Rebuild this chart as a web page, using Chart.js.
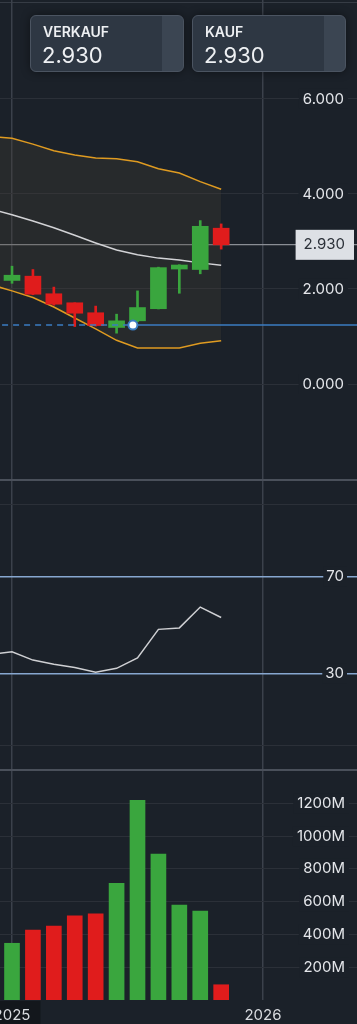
<!DOCTYPE html>
<html>
<head>
<meta charset="utf-8">
<script src="https://cdn.jsdelivr.net/npm/chart.js@4.4.1/dist/chart.umd.min.js"></script>
<style>
  html, body { margin: 0; padding: 0; background: #1b2129; }
  body { width: 357px; height: 1024px; position: relative; overflow: hidden; font-family: Inter, "Noto Sans", sans-serif; }
  .pane { position: absolute; left: 0; width: 357px; }
  .sep { position: absolute; left: 0; width: 357px; height: 2px; background: #4a505a; }
  .quote {
    position: absolute; top: 15px; width: 154px; height: 57px; box-sizing: border-box;
    border: 1px solid #4b5461; border-radius: 6px; color: #eef0f3;
    background: linear-gradient(to right, #2e3743 0, #2e3743 131px, #3b4552 131px);
    box-shadow: 0 0 10px rgba(0, 0, 0, 0.45);
  }
  .quote .lbl { position: absolute; left: 12px; top: 7px; font-size: 14px; font-weight: 600; }
  .quote .val { position: absolute; left: 11px; top: 26px; font-size: 22px; }
</style>
</head>
<body>
<div class="sep" style="top:2px;height:1px;background:#363c45"></div>
<div class="pane" style="top:0;height:480px"><canvas id="price" width="357" height="480"></canvas></div>
<div class="pane" style="top:480px;height:290px"><canvas id="rsi" width="357" height="290"></canvas></div>
<div class="pane" style="top:770px;height:254px"><canvas id="volume" width="357" height="254"></canvas></div>
<div class="sep" style="top:479px"></div>
<div class="sep" style="top:769px"></div>
<div class="quote" style="left:30px"><div class="lbl">VERKAUF</div><div class="val">2.930</div></div>
<div class="quote" style="left:192px"><div class="lbl">KAUF</div><div class="val">2.930</div></div>

<script>
// month index: 0 = Jan 2025, 12 = Jan 2026
const candleMonths = [0, 1, 2, 3, 4, 5, 6, 7, 8, 9, 10];
const opens  = [2.18, 2.27, 1.90, 1.71, 1.50, 1.19, 1.33, 1.585, 2.42, 2.41, 3.28];
const highs  = [2.48, 2.41, 2.04, 1.71, 1.64, 1.47, 1.96, 2.46, 2.51, 3.44, 3.37];
const lows   = [2.12, 1.88, 1.66, 1.21, 1.22, 1.07, 1.31, 1.58, 1.91, 2.32, 2.84];
const closes = [2.29, 1.89, 1.68, 1.49, 1.23, 1.33, 1.61, 2.45, 2.505, 3.32, 2.93];
const volumes = [346, 427, 451, 514, 526, 711, 1218, 890, 579, 543, 93]; // millions

const indMonths = [-1, 0, 1, 2, 3, 4, 5, 6, 7, 8, 9, 10];
const bbUpper  = [5.21, 5.175, 5.05, 4.91, 4.82, 4.76, 4.74, 4.68, 4.53, 4.44, 4.26, 4.10];
const bbMiddle = [3.68, 3.565, 3.43, 3.29, 3.13, 2.97, 2.82, 2.72, 2.65, 2.61, 2.55, 2.50];
const bbLower  = [2.09, 1.96, 1.82, 1.62, 1.39, 1.16, 0.92, 0.76, 0.76, 0.76, 0.86, 0.91];
const rsiValues = [37.9, 38.9, 35.5, 33.8, 32.4, 30.5, 32.1, 36.4, 48.2, 48.8, 57.4, 53.1];

const lastPrice = 2.93;
const refPrice = 1.24;
const refMonth = 5.78;

const yearTicks = [0, 12];
const yearLabels = ['2025', '2026'];
const priceTicks = [0, 2, 4, 6];
const rsiTicks = [0, 30, 70, 100];
const rsiLabelled = [30, 70];
const volumeTicks = [200, 400, 600, 800, 1000, 1200];

const BG = '#1b2129';
const GRID = '#2b3038';
const VGRID = '#3b414b';
const GREEN = '#3aa63e';
const RED = '#e01c1c';
const ORANGE = '#df9b21';
const BLUE = '#3b7cc2';

Chart.defaults.font.family = 'Inter, "Noto Sans", sans-serif';

const candleColors = candleMonths.map((m, i) => closes[i] >= opens[i] ? GREEN : RED);

function zeroPad(axis) {
  axis.paddingTop = 0; axis.paddingBottom = 0;
  axis.paddingLeft = 0; axis.paddingRight = 0;
}

function xAxis(showLabels) {
  return {
    type: 'linear', min: -0.574, max: 16.494, offset: false,
    afterBuildTicks: a => { a.ticks = yearTicks.map(v => ({ value: v })); },
    grid: { color: VGRID, lineWidth: 1.5, drawTicks: false, offset: false },
    border: { display: false },
    ticks: showLabels ? {
      autoSkip: false, maxRotation: 0, padding: 6, color: '#d9dce0',
      font: { size: 15 },
      callback: v => yearLabels[yearTicks.indexOf(v)],
      showLabelBackdrop: true,
      backdropColor: ctx => ctx.index === 0 ? '#13171c' : 'rgba(0,0,0,0)',
      backdropPadding: { left: 10, right: 10, top: 5, bottom: 8 }
    } : { display: false },
    afterFit: a => { a.height = showLabels ? 24 : 0; zeroPad(a); }
  };
}

function rightAxis(min, max, ticks, extra) {
  return Object.assign({
    position: 'right', min, max,
    afterBuildTicks: a => { a.ticks = ticks.map(v => ({ value: v })); },
    grid: { color: GRID, lineWidth: 1, drawTicks: false },
    border: { display: false },
    afterFit: a => { a.width = 0; zeroPad(a); }
  }, extra);
}

const common = {
  responsive: false,
  animation: false,
  events: [],
  layout: { padding: 0, autoPadding: false },
  plugins: { legend: { display: false }, tooltip: { enabled: false } }
};

const pts = (xs, ys) => xs.map((x, i) => ({ x, y: ys[i] }));

// price pane
new Chart(document.getElementById('price'), {
  type: 'bar',
  data: {
    datasets: [
      { type: 'line', data: [{ x: refMonth, y: refPrice }], showLine: false, pointRadius: 4.5,
        pointBackgroundColor: '#ffffff', pointBorderColor: BLUE, pointBorderWidth: 2, order: 0 },
      { type: 'line', data: [{ x: -1, y: refPrice }, { x: refMonth, y: refPrice }], borderColor: BLUE,
        borderWidth: 1.5, borderDash: [6, 5], pointRadius: 0, order: 0.5 },
      { type: 'line', data: [{ x: refMonth, y: refPrice }, { x: 17, y: refPrice }], borderColor: BLUE,
        borderWidth: 1.5, pointRadius: 0, order: 0.5 },
      { data: candleMonths.map((m, i) => ({ x: m, y: [opens[i], closes[i]] })), backgroundColor: candleColors,
        barThickness: 16, grouped: false, order: 1 },
      { data: candleMonths.map((m, i) => ({ x: m, y: [lows[i], highs[i]] })), backgroundColor: candleColors,
        barThickness: 2, grouped: false, order: 2 },
      { type: 'line', data: pts(indMonths, bbUpper), borderColor: ORANGE, borderWidth: 1.5, pointRadius: 0,
        fill: '+2', backgroundColor: 'rgba(70, 64, 52, 0.3)', order: 7 },
      { type: 'line', data: pts(indMonths, bbMiddle), borderColor: '#d2d3d6', borderWidth: 1.5, pointRadius: 0, order: 5 },
      { type: 'line', data: pts(indMonths, bbLower), borderColor: ORANGE, borderWidth: 1.5, pointRadius: 0, order: 6 }
    ]
  },
  options: Object.assign({}, common, {
    scales: {
      x: xAxis(false),
      y: rightAxis(-2.021, 8.084, priceTicks, {
        ticks: { mirror: true, padding: -13, color: '#e4e6ea', font: { size: 15 }, z: 1,
          callback: v => v.toFixed(3), showLabelBackdrop: true, backdropColor: BG,
          backdropPadding: { left: 4, right: 4, top: 1, bottom: 1 } }
      }),
      yLast: rightAxis(-2.021, 8.084, [lastPrice], {
        grid: { color: '#8a8e95', lineWidth: 1.2, drawTicks: false },
        ticks: { mirror: true, padding: -12, color: '#2b3038', font: { size: 15 }, z: 1,
          callback: v => v.toFixed(3), showLabelBackdrop: true, backdropColor: '#dde0e5',
          backdropPadding: { left: 8, right: 9, top: 6, bottom: 6 } }
      })
    }
  })
});

// RSI pane
new Chart(document.getElementById('rsi'), {
  type: 'line',
  data: {
    datasets: [
      { data: pts(indMonths, rsiValues), borderColor: '#cfd0d3', borderWidth: 1.5, pointRadius: 0 }
    ]
  },
  options: Object.assign({}, common, {
    scales: {
      x: xAxis(false),
      y: rightAxis(-9.92, 109.92, rsiTicks, {
        grid: {
          drawTicks: false,
          color: ctx => rsiLabelled.includes(ctx.tick.value) ? '#87a7d0' : GRID,
          lineWidth: ctx => rsiLabelled.includes(ctx.tick.value) ? 1.5 : 1
        },
        ticks: { mirror: true, padding: -13, color: '#e4e6ea', font: { size: 15 }, z: 1,
          callback: v => rsiLabelled.includes(v) ? String(v) : '',
          showLabelBackdrop: true,
          backdropColor: ctx => rsiLabelled.includes(ctx.tick.value) ? BG : 'rgba(0,0,0,0)',
          backdropPadding: { left: 3, right: 3, top: 1, bottom: 1 } }
      })
    }
  })
});

// volume pane
new Chart(document.getElementById('volume'), {
  type: 'bar',
  data: {
    datasets: [
      { data: pts(candleMonths, volumes), backgroundColor: candleColors, barThickness: 15, grouped: false }
    ]
  },
  options: Object.assign({}, common, {
    scales: {
      x: xAxis(true),
      y: rightAxis(0, 1403, volumeTicks, {
        ticks: { mirror: true, padding: -12, color: '#e4e6ea', font: { size: 15 }, z: 1,
          callback: v => v + 'M', showLabelBackdrop: true, backdropColor: BG,
          backdropPadding: { left: 4, right: 4, top: 1, bottom: 1 } }
      })
    }
  })
});
</script>
</body>
</html>
